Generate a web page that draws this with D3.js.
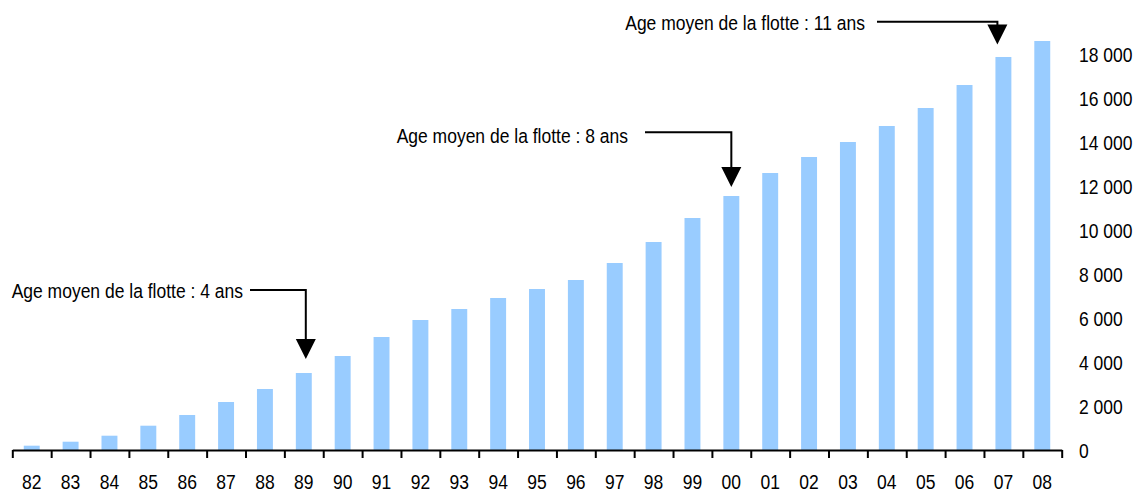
<!DOCTYPE html>
<html>
<head>
<meta charset="utf-8">
<script src="https://cdn.jsdelivr.net/npm/d3@7"></script>
<style>
  html, body { margin: 0; padding: 0; background: #ffffff; }
  svg { display: block; font-family: "Liberation Sans", Arial, sans-serif; }
</style>
</head>
<body>
<div id="chart"></div>
<script>
// ==============================
// DATA
// ==============================

// Years (two-digit labels) on the x axis
const years = ["82", "83", "84", "85", "86", "87", "88", "89", "90", "91", "92", "93", "94", "95",
  "96", "97", "98", "99", "00", "01", "02", "03", "04", "05", "06", "07", "08"];

// Bar values
const values = [196, 377, 650, 1105, 1592, 2183, 2774, 3502, 4275, 5139, 5912, 6412, 6913, 7322,
  7731, 8504, 9459, 10551, 11551, 12597, 13325, 14007, 14735, 15553, 16599, 17873, 18600];

// Right axis ticks
const yTicks = [0, 2000, 4000, 6000, 8000, 10000, 12000, 14000, 16000, 18000];

// Annotations: target year + text
const annotYears = ["89", "00", "07"];
const annotTexts = [
  "Age moyen de la flotte : 4 ans",
  "Age moyen de la flotte : 8 ans",
  "Age moyen de la flotte : 11 ans"
];

// ==============================
// SVG SETUP
// ==============================

const width = 1138;
const height = 493;
const fontSize = 17.5;
const stretch = 1.18;   // text in the original is a bit taller than normal

const svg = d3.select("#chart")
  .append("svg")
  .attr("width", width)
  .attr("height", height);

const x0 = 12.3, x1 = 1061.7;
const baseY = 450;

const x = d3.scaleBand()
  .domain(years)
  .range([x0, x1])
  .paddingInner(0.59)
  .paddingOuter(0.295);

const y = d3.scaleLinear()
  .domain([0, 18000])
  .range([baseY, 54.2]);

// ==============================
// BARS
// ==============================

svg.append("g")
  .selectAll("rect")
  .data(years)
  .enter()
  .append("rect")
  .attr("x", d => x(d))
  .attr("width", x.bandwidth())
  .attr("y", (d, i) => y(values[i]))
  .attr("height", (d, i) => baseY - y(values[i]))
  .attr("fill", "#99ccff");

// ==============================
// X AXIS (ticks between categories)
// ==============================

const boundary = d3.scaleLinear().domain([0, years.length]).range([x0, x1]);

const xTicksG = svg.append("g")
  .attr("transform", `translate(0,${baseY})`)
  .call(d3.axisBottom(boundary)
    .tickValues(d3.range(years.length + 1))
    .tickFormat("")
    .tickSize(8)
    .tickSizeOuter(0));
xTicksG.select(".domain").attr("stroke", "#000").attr("stroke-width", 2);
xTicksG.selectAll(".tick line").attr("stroke", "#000").attr("stroke-width", 2);

// labels sit near the bottom edge, kept just inside it
const xLabels = svg.append("g")
  .attr("transform", `translate(0,${baseY})`)
  .call(d3.axisBottom(x).tickSize(0));
xLabels.select(".domain").remove();
xLabels.selectAll("text")
  .attr("y", 0)
  .attr("dy", 0)
  .attr("font-size", fontSize)
  .attr("font-family", "Liberation Sans, Arial, sans-serif")
  .attr("fill", "#000")
  .attr("transform", `translate(0,38.5) scale(1,${stretch})`);

// ==============================
// Y AXIS (labels on the right, no line)
// ==============================

const fmt = v => d3.format(",")(v).replace(/,/g, " ");

const yAxis = svg.append("g")
  .attr("transform", "translate(1079,0)")
  .call(d3.axisRight(y).tickValues(yTicks).tickSize(0).tickPadding(0).tickFormat(fmt));
yAxis.select(".domain").remove();
yAxis.selectAll("text")
  .attr("x", 0)
  .attr("dy", 0)
  .attr("font-size", fontSize)
  .attr("font-family", "Liberation Sans, Arial, sans-serif")
  .attr("fill", "#000")
  .attr("text-anchor", "start")
  .attr("transform", `translate(0,7.4) scale(1,${stretch})`);

// ==============================
// ANNOTATIONS (elbow arrows)
// ==============================

// layout for each annotation: elbow line y, text end, line start, gap above bar, x shift
const annotLayout = [
  { lineY: 290, textEnd: 243, lineStart: 250, gap: 14, dx: 2 },
  { lineY: 132.3, textEnd: 628, lineStart: 645, gap: 9, dx: 0 },
  { lineY: 21.7, textEnd: 865, lineStart: 877, gap: 12.5, dx: -6 }
];

const headW = 20, headH = 20;

annotYears.forEach((yr, i) => {
  const L = annotLayout[i];
  const idx = years.indexOf(yr);
  const tipX = x(yr) + x.bandwidth() / 2 + L.dx;
  const tipY = y(values[idx]) - L.gap;
  const g = svg.append("g");

  g.append("path")
    .attr("d", `M${L.lineStart},${L.lineY}H${tipX}V${tipY - headH + 1}`)
    .attr("fill", "none")
    .attr("stroke", "#000")
    .attr("stroke-width", 2);

  g.append("path")
    .attr("d", `M${tipX - headW / 2},${tipY - headH}L${tipX + headW / 2},${tipY - headH}L${tipX},${tipY}Z`)
    .attr("fill", "#000");

  g.append("text")
    .attr("text-anchor", "end")
    .attr("font-size", fontSize)
    .attr("fill", "#000")
    .attr("transform", `translate(${L.textEnd},${L.lineY + (i === 1 ? 10.7 : 8.3)}) scale(1,${stretch})`)
    .text(annotTexts[i]);
});
</script>
</body>
</html>
